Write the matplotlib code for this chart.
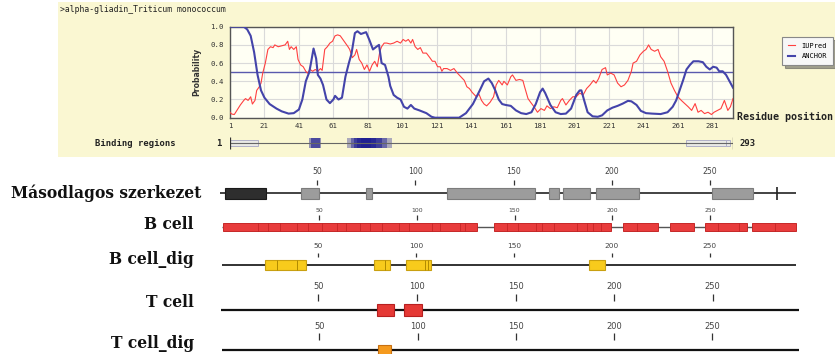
import matplotlib
matplotlib.use("Agg")
import matplotlib.pyplot as plt
from matplotlib.patches import Rectangle

# ---------------- data ----------------
title = ">alpha-gliadin_Triticum monococcum"
seq_len = 293

anchor_pos = [1, 5, 9, 11, 13, 15, 17, 19, 21, 24, 28, 31, 35, 38, 41, 43, 45, 47, 48, 49.5,
              51, 52, 53.5, 55, 57, 59, 61, 62, 64, 66, 68, 70, 71.5, 73.5, 75, 77, 78.5, 80,
              82, 84, 86, 87.5, 89, 91, 93, 94, 96, 98, 100, 102, 104, 106, 108, 111, 115, 118,
              120, 127, 134, 138, 142, 146, 148.5, 151, 153, 155, 157, 159, 161, 164, 167, 170,
              173, 176, 178.5, 181, 182.5, 184, 187, 190, 193, 196, 199, 202, 204, 205, 206.6,
              208.6, 211.5, 214.5, 217, 220, 223, 226, 229, 232, 234, 237, 239.5, 242.5, 246,
              251, 255, 258, 260, 262, 264, 266, 268, 270, 273, 275.5, 277.5, 279.5, 281.5,
              283.5, 285, 287, 289, 291, 293]
anchor_val = [1.0, 1.0, 1.0, 0.97, 0.9, 0.72, 0.47, 0.3, 0.22, 0.15, 0.1, 0.07, 0.045, 0.05,
              0.09, 0.2, 0.4, 0.5, 0.6, 0.76, 0.65, 0.47, 0.43, 0.36, 0.2, 0.16, 0.2, 0.24, 0.2,
              0.22, 0.45, 0.6, 0.7, 0.93, 0.95, 0.92, 0.93, 0.94, 0.85, 0.75, 0.78, 0.8, 0.6,
              0.58, 0.45, 0.35, 0.25, 0.22, 0.2, 0.12, 0.1, 0.14, 0.1, 0.08, 0.05, 0.01, 0.0,
              0.0, 0.0, 0.05, 0.15, 0.3, 0.4, 0.43, 0.38, 0.3, 0.2, 0.15, 0.14, 0.13, 0.08, 0.05,
              0.04, 0.06, 0.15, 0.28, 0.32, 0.27, 0.14, 0.06, 0.04, 0.045, 0.1, 0.25, 0.3, 0.3,
              0.19, 0.06, 0.015, 0.01, 0.026, 0.08, 0.11, 0.13, 0.155, 0.185, 0.18, 0.14, 0.075,
              0.05, 0.045, 0.04, 0.06, 0.12, 0.19, 0.3, 0.41, 0.53, 0.58, 0.62, 0.62, 0.61, 0.56,
              0.53, 0.56, 0.55, 0.51, 0.51, 0.47, 0.4, 0.33]

iupred_pos = [1, 2, 3.5, 5, 7, 9, 10, 11.5, 13, 14, 15.5, 16.5, 18, 19, 20, 21.5, 23, 24.5, 26,
              27, 29, 31, 33, 34.5, 35.5, 36.5, 38, 39.5, 40.5, 42, 43.5, 45, 46, 47.5, 49, 50.5,
              52, 53.5, 54.5, 56, 57.5, 59, 60.5, 62, 63.5, 65, 66.5, 68, 69.5, 70.5, 72, 73.5,
              74.5, 76, 77.5, 79, 80.5, 82, 83.5, 85, 86.5, 88, 89, 90.5, 92, 94, 96, 98, 100,
              101.5, 103, 104.5, 106, 107, 108.5, 110, 111.5, 113, 115, 117, 118.5, 120, 121.5,
              123, 124, 125, 127, 129, 131, 133, 135, 137, 138.5, 140, 141.5, 143, 144, 145.5,
              147, 148.5, 150, 152, 154, 155.5, 157, 159, 160, 162, 164, 165, 167, 169, 171, 172,
              174, 175.5, 177.5, 179.5, 181.5, 183.5, 185, 187, 189, 191, 193, 194, 196, 198, 200,
              202, 204, 206, 208, 210, 212, 213.5, 215, 217, 219, 220, 222, 224, 226, 228, 230,
              232, 234, 235, 237, 239, 241, 242.5, 244, 245.5, 247.5, 249.5, 251, 253, 255, 257,
              259, 261, 263, 265, 267, 269, 271, 272.7, 274.5, 276.5, 278.5, 280.5, 282, 284,
              286, 288, 290, 291.5, 293]
iupred_val = [0.06, 0.04, 0.035, 0.08, 0.14, 0.19, 0.21, 0.19, 0.23, 0.15, 0.19, 0.3, 0.34,
              0.38, 0.49, 0.6, 0.75, 0.78, 0.77, 0.8, 0.78, 0.79, 0.8, 0.84, 0.75, 0.78, 0.75,
              0.78, 0.64, 0.58, 0.56, 0.51, 0.49, 0.53, 0.51, 0.53, 0.51, 0.54, 0.52, 0.75, 0.78,
              0.82, 0.84, 0.9, 0.91, 0.9, 0.86, 0.82, 0.78, 0.75, 0.66, 0.69, 0.75, 0.64, 0.6,
              0.53, 0.58, 0.51, 0.58, 0.62, 0.56, 0.73, 0.78, 0.82, 0.82, 0.81, 0.82, 0.84, 0.82,
              0.86, 0.84, 0.86, 0.82, 0.86, 0.78, 0.75, 0.77, 0.71, 0.71, 0.66, 0.62, 0.62, 0.56,
              0.56, 0.51, 0.54, 0.54, 0.52, 0.54, 0.49, 0.45, 0.41, 0.34, 0.32, 0.28, 0.25, 0.23,
              0.26, 0.19, 0.15, 0.13, 0.17, 0.23, 0.36, 0.41, 0.36, 0.4, 0.36, 0.45, 0.47, 0.41,
              0.42, 0.41, 0.34, 0.21, 0.17, 0.12, 0.06, 0.1, 0.08, 0.13, 0.1, 0.12, 0.11, 0.19,
              0.21, 0.14, 0.19, 0.23, 0.23, 0.27, 0.25, 0.32, 0.36, 0.41, 0.38, 0.43, 0.53, 0.55,
              0.47, 0.49, 0.47, 0.38, 0.34, 0.36, 0.41, 0.51, 0.6, 0.62, 0.69, 0.73, 0.75, 0.8,
              0.75, 0.73, 0.75, 0.67, 0.62, 0.51, 0.38, 0.3, 0.23, 0.19, 0.155, 0.12, 0.08, 0.155,
              0.06, 0.08, 0.045, 0.06, 0.035, 0.06, 0.08, 0.1, 0.19, 0.08, 0.12, 0.21]

x_ticks_top = [1, 21, 41, 61, 81, 101, 121, 141, 161, 181, 201, 221, 241, 261, 281]
y_ticks_top = [0.0, 0.2, 0.4, 0.6, 0.8, 1.0]
threshold = 0.5

# binding regions: (start, end, intensity)
binding_blocks = [(47, 54, 0.45), (48, 53, 0.6), (69, 95, 0.35), (71, 92, 0.45),
                  (73, 89, 0.55), (75, 86, 0.6), (77, 83, 0.5)]
binding_grey = [(1, 17), (266, 289), (289, 291)]

row_labels = ["Másodlagos szerkezet", "B cell", "B cell_dig", "T cell", "T cell_dig"]
ruler_ticks = [50, 100, 150, 200, 250]

sec_dark = [(3, 24)]
sec_grey = [(42, 51), (75, 78), (116, 161), (168, 173), (175, 189), (192, 214), (251, 272)]
sec_mark = [284]

bcell = [(1, 131), (139.5, 199.5), (205.5, 223.5), (229.5, 241.7), (247.4, 269), (271.5, 294)]
bcell_div = [19, 24, 30, 38.6, 44.5, 51.4, 59, 64, 71, 76, 82, 91, 96, 107.6, 112, 122, 124.7,
             146, 152, 161, 164, 170, 182, 187, 190.3, 194, 212.5, 254, 265, 283]

bcell_dig = [(22.7, 43.7), (78.4, 86.6), (94.8, 107.6), (188.3, 196.5)]
bcell_dig_div = [28.9, 39.1, 84.1, 104.5, 106]

tcell = [(79.8, 88.4), (93.5, 102.6)]
tcell_dig = [(79.9, 86.5)]

# ---------------- figure ----------------
W, H = 835, 354
fig = plt.figure(figsize=(W / 100, H / 100), dpi=100)
fig.patch.set_facecolor("white")


def fx(x):
    return x / W


def fy(y):
    return 1 - y / H


def px_axes(x0, y0, x1, y1, **kw):
    return fig.add_axes([x0 / W, 1 - y1 / H, (x1 - x0) / W, (y1 - y0) / H], **kw)


PT = 0.72  # points per pixel at 100 dpi
MONO = "DejaVu Sans Mono"

# top yellow panel
fig.patches.append(Rectangle((fx(58), fy(157)), (W - 58) / W, 155 / H,
                             transform=fig.transFigure, facecolor="#FAF7D2",
                             edgecolor="none", zorder=-10))

fig.text(fx(60), fy(10), title, family=MONO, fontsize=5.9, color="#222",
         ha="left", va="center")

ax = px_axes(230, 26.7, 733, 117.7)
ax.set_facecolor("#FFFFF4")
ax.set_xlim(1, seq_len)
ax.set_ylim(0, 1)
ax.set_xticks(x_ticks_top)
ax.set_xticklabels([str(t) for t in x_ticks_top], family=MONO)
ax.set_yticks(y_ticks_top)
ax.set_yticklabels([f"{t:.1f}" for t in y_ticks_top], family=MONO)
ax.tick_params(axis="both", length=0, labelsize=5.3, colors="#333")
ax.tick_params(axis="x", pad=5 * PT)
ax.tick_params(axis="y", pad=6 * PT)
ax.grid(True, color="#DADADA", lw=0.8)
ax.set_axisbelow(True)
for s in ax.spines.values():
    s.set_color("#555")
    s.set_linewidth(1.0)
ax.axhline(threshold, color="#5A5AAE", lw=1.0, zorder=2)
l_iup, = ax.plot(iupred_pos, iupred_val, color="#FF4040", lw=0.8, label="IUPred", zorder=3)
l_anc, = ax.plot(anchor_pos, anchor_val, color="#4444AA", lw=1.5, label="ANCHOR", zorder=4)

fig.text(fx(197), fy(72), "Probability", rotation=90, ha="center", va="center",
         fontsize=5.6, weight="bold", color="#333")
fig.text(fx(737), fy(117), "Residue position", ha="left", va="center",
         family=MONO, weight="bold", fontsize=7.2, color="#222")

leg = fig.legend(handles=[l_iup, l_anc], loc="upper left",
                 bbox_to_anchor=(fx(782), fy(37)), bbox_transform=fig.transFigure,
                 prop={"family": MONO, "size": 5.0}, frameon=True, fancybox=False,
                 shadow=True, borderpad=0.8, handlelength=1.0, handletextpad=1.0,
                 labelspacing=0.7, borderaxespad=0)
leg.get_frame().set_edgecolor("#888")
leg.get_frame().set_linewidth(0.8)
leg.get_frame().set_facecolor("#F7F7F7")

# binding regions row
bx = px_axes(230, 136, 733, 150)
bx.set_xlim(1, seq_len)
bx.set_ylim(-1, 1)
bx.axis("off")
bx.hlines(0, 1, seq_len, color="#666", lw=0.8)
bx.vlines([1, seq_len], -0.85, 0.85, color="#333", lw=0.9)
for s, e in binding_grey:
    bx.add_patch(Rectangle((s, -0.38), e - s, 0.76, facecolor="#EAEAE6",
                           edgecolor="#B0B0C8", lw=0.7))
for s, e, a in binding_blocks:
    bx.add_patch(Rectangle((s, -0.75), e - s, 1.5, facecolor="#1A1A90",
                           edgecolor="none", alpha=a))
fig.text(fx(95), fy(143), "Binding regions", ha="left", va="center",
         family=MONO, weight="bold", fontsize=6.4, color="#222")
fig.text(fx(216), fy(143), "1", ha="left", va="center",
         family=MONO, weight="bold", fontsize=6.4, color="#222")
fig.text(fx(740), fy(143), str(seq_len), ha="left", va="center",
         family=MONO, weight="bold", fontsize=6.4, color="#222")


# ---------------- lower tracks ----------------
def track(x0, scale, y_tick, tick_len, label_fs, pad, y_line, y_bot, line_lw=1.2,
          line_color="#222"):
    a = px_axes(x0, y_tick, x0 + 295 * scale, y_bot)
    a.set_xlim(0, 295)
    a.set_ylim(y_bot, y_tick)
    a.set_facecolor("none")
    for s in a.spines.values():
        s.set_visible(False)
    a.set_yticks([])
    a.xaxis.set_ticks_position("top")
    a.set_xticks(ruler_ticks)
    a.set_xticklabels([str(t) for t in ruler_ticks])
    a.tick_params(axis="x", direction="in", length=tick_len * PT, width=0.9,
                  color="#333", labelsize=label_fs, labelcolor="#444", pad=pad * PT)
    a.hlines(y_line, 0.6, 294, color=line_color, lw=line_lw, zorder=1)
    return a


def boxes(a, items, y_c, h, fc, ec, lw=0.8):
    for s, e in items:
        a.add_patch(Rectangle((s, y_c - h / 2), e - s, h, facecolor=fc, edgecolor=ec,
                              lw=lw, zorder=2, clip_on=False))


label_y = [193.3, 224.3, 259, 302.3, 343.3]
for txt, yy in zip(row_labels, label_y):
    fig.text(fx(201 if txt == row_labels[0] else 194), fy(yy), txt, ha="right",
             va="center", family="DejaVu Serif", weight="bold", fontsize=11.2, color="#111")

# row 1: secondary structure
a1 = track(218.75, 1.965, 180, 5, 5.6, 4, 193.3, 201, line_lw=1.2)
boxes(a1, sec_dark, 193.3, 11, "#2E2E2E", "#1A1A1A")
boxes(a1, sec_grey, 193.3, 11, "#9C9C9C", "#7C7C7C")
a1.vlines(sec_mark, 187, 200, color="#222", lw=1.2)

# row 2: B cell
a2 = track(221.25, 1.955, 215, 5, 4.4, 2, 227, 233, line_lw=1.0, line_color="#555")
boxes(a2, bcell, 227, 8, "#E83C3C", "#C62828", lw=0.7)
a2.vlines(bcell_div, 223.3, 230.7, color="#B71C1C", lw=0.6, alpha=0.7, zorder=3)

# row 3: B cell_dig
a3 = track(220.5, 1.957, 253, 4, 5.3, 4, 265, 272, line_lw=1.3)
boxes(a3, bcell_dig, 265, 10, "#F8CB1C", "#C9A010")
a3.vlines(bcell_dig_div, 260.3, 269.7, color="#B08A00", lw=0.7, zorder=3)

# row 4: T cell
a4 = track(219.7, 1.972, 294, 7, 6.0, 3, 310, 318, line_lw=1.6, line_color="#111")
boxes(a4, tcell, 310, 12, "#E53935", "#B72020")

# row 5: T cell_dig
a5 = track(221, 1.965, 333, 7, 6.0, 2, 350, 354, line_lw=1.6, line_color="#111")
boxes(a5, tcell_dig, 351, 12, "#F59A1E", "#C77012")

fig.savefig("out.png", dpi=100)
